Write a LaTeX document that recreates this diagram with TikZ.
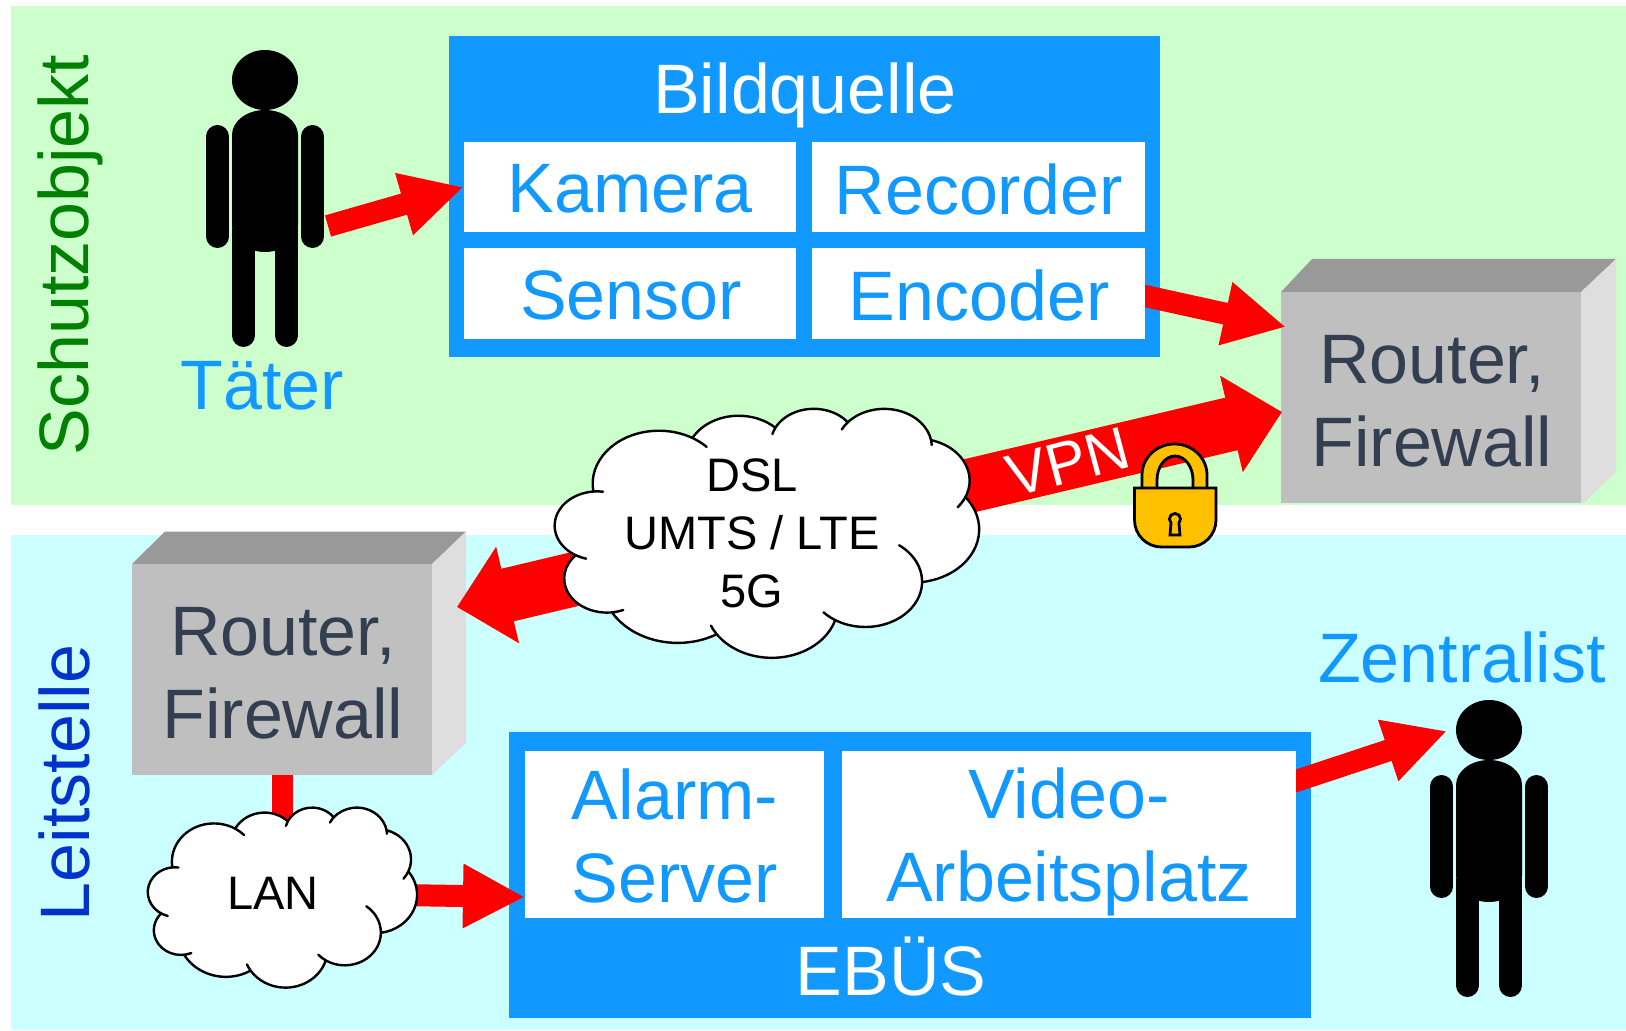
\documentclass[tikz,border=0pt]{standalone}
\usepackage{fontspec}
\setmainfont{Liberation Sans}
\usetikzlibrary{arrows.meta}
\definecolor{schutzgreen}{HTML}{CCFFCC}
\definecolor{leitcyan}{HTML}{CCFFFF}
\definecolor{boxblue}{HTML}{1199FF}
\definecolor{routertext}{HTML}{333F50}
\definecolor{lockyellow}{HTML}{FFC000}
\newcommand{\ctheta}[3]{atan2(#1*sin(#3),#2*cos(#3))}
\newcommand{\cloudarc}[6]{
  arc[x radius=#1pt,y radius=#2pt,start angle={\ctheta{#1}{#2}{(#3)}},delta angle={-mod(\ctheta{#1}{#2}{(#3)}-\ctheta{#1}{#2}{(#3-#5)}+720,360)}]
  arc[x radius=#1pt,y radius=#2pt,start angle={\ctheta{#1}{#2}{(#3-#5)}},delta angle={mod(\ctheta{#1}{#2}{(#3+#4+#6)}-\ctheta{#1}{#2}{(#3-#5)}+720,360)}]
  arc[x radius=#1pt,y radius=#2pt,start angle={\ctheta{#1}{#2}{(#3+#4+#6)}},delta angle={-mod(\ctheta{#1}{#2}{(#3+#4+#6)}-\ctheta{#1}{#2}{(#3+#4)}+720,360)}]
}
\newcommand{\cloudshape}[4]{
  \begin{scope}[shift={(#1,#2)},x=1pt,y=1pt,xscale={#3*0.5/4320},yscale={-#4*0.5/4320}]
    \draw[cloudline] (390,1437)
      \cloudarc{675.3}{919}{-190.487}{123.781}{0}{14}
      \cloudarc{533.3}{726.7}{-144.102}{89.945}{0}{0}
      \cloudarc{436.5}{594.5}{-145.808}{99.723}{14}{0}
      \cloudarc{485.7}{659.5}{-130.986}{117.242}{14}{10}
      \cloudarc{533.3}{727.3}{-78.709}{109.027}{0}{18}
      \cloudarc{677.5}{922}{-46.267}{130.269}{0}{0}
      \cloudarc{578.5}{786.7}{0.625}{114.033}{62}{14}
      \cloudarc{675.2}{921.5}{22.452}{115.173}{0}{12}
      \cloudarc{772}{1054.3}{66.243}{75.711}{0}{0}
      \cloudarc{436}{591.8}{-274.942}{146.736}{12}{0}
      \cloudarc{434.5}{594.5}{-246.833}{152.522}{12}{10}
      -- cycle;
  \end{scope}
}
\tikzset{
  bigtext/.style={font=\fontsize{35}{41.5}\selectfont},
  cloudline/.style={draw=black,fill=white,line width=1.2pt,line join=round},
  cloudtext/.style={font=\fontsize{23.5}{29}\selectfont,align=center,text=black},
  whitebox/.style={fill=white,inner sep=0pt},
  bluetext/.style={bigtext,text=boxblue,align=center},
  bluebox/.style={fill=boxblue,inner sep=0pt},
  routerfront/.style={fill=black!25,inner sep=0pt,minimum width=150pt,minimum height=105.5pt},
  routerlabel/.style={bigtext,text=routertext,align=center},
  redshaft/.style={draw=red,line width=11pt,-{Triangle[length=31pt,width=30pt]}},
  redwide/.style={draw=red,line width=27pt,-{Triangle[length=26pt,width=48pt]}},
  person/.pic={
    \fill (0,0) ellipse[x radius=16.5pt,y radius=15pt];
    \fill (-33,55) arc[start angle=180,end angle=0,x radius=16.5pt,y radius=12.5pt] -- (33,145) arc[start angle=0,end angle=-180,x radius=16.5pt,y radius=13.5pt] -- cycle;
    \draw[line width=11.5pt,line cap=round] (-47.5,56.5) -- (-47.5,156.5);
    \draw[line width=11.5pt,line cap=round] (47.5,56.5) -- (47.5,156.5);
    \draw[line width=11.5pt,line cap=round] (-21.5,150) -- (-21.5,255.5);
    \draw[line width=11.5pt,line cap=round] (21.5,150) -- (21.5,255.5);
  }
}
\begin{document}
\begin{tikzpicture}[x=0.5pt,y=-0.5pt]
  \useasboundingbox (0,0) rectangle (1626,1031);
  \fill[schutzgreen] (11,6) rectangle (1626,505);
  \fill[leitcyan] (11,535) rectangle (1626,1030);
  \node[rotate=90,bigtext,text=green!50!black] (schutzobjekt) at (70,255) {Schutzobjekt};
  \node[rotate=90,bigtext,text={rgb,255:red,0;green,51;blue,204}] (leitstelle) at (64,783) {Leitstelle};
  \pic at (265,80) {person};
  \pic at (1489,730) {person};
  \node[bluetext] (taeter) at (262,386) {Täter};
  \node[bluetext] (zentralist) at (1462,657) {Zentralist};
  \node[bluebox,minimum width=355.5pt,minimum height=160.5pt] (bildquelle) at (804.5,196.5) {};
  \node[bigtext,text=white] (bildtitel) at (805,95) {Bildquelle};
  \fill[black!40] (1281,292) -- (1312,259) -- (1616,259) -- (1581,292) -- cycle;
  \fill[black!13] (1581,292) -- (1616,259) -- (1616,472) -- (1584,503) -- (1581,503) -- cycle;
  \node[routerfront] (routerA) at (1431,397.5) {};
  \node[routerlabel] at (1432,401) {Router,\\Firewall};
  \fill[black!40] (132,564) -- (165,531.5) -- (466,531.5) -- (432,564) -- cycle;
  \fill[black!13] (432,564) -- (466,531.5) -- (466,743) -- (432,775) -- cycle;
  \node[routerfront] (routerB) at (282,669.5) {};
  \node[routerlabel] at (283,673) {Router,\\Firewall};
  \node[bluebox,minimum width=401pt,minimum height=143pt] (ebues) at (910,875) {};
  \node[bigtext,text=white] (ebuestitel) at (891,967) {EBÜS};
  \coordinate (dslmid) at (752,537);
  \coordinate (lanmid) at (273,893);
  \coordinate (encoderout) at (1125,291.6);
  \coordinate (routerAin) at (1286,327);
  \coordinate (routerAvpn) at (1282,412);
  \coordinate (routerBin) at (457,607);
  \coordinate (alarmin) at (525,897);
  \coordinate (videoout) at (1276,787.6);
  \coordinate (zentralistin) at (1447,731);
  \coordinate (taeterhand) at (328,226);
  \draw[redshaft] (encoderout) -- (routerAin);
  \draw[redshaft] (videoout) -- (zentralistin);
  \node[whitebox,minimum width=166pt,minimum height=45pt] (kamera) at (630,187) {};
  \node[bluetext] at (630,189) {Kamera};
  \node[whitebox,minimum width=166.5pt,minimum height=45pt] (recorder) at (978.5,187) {};
  \node[bluetext] at (978.5,189) {Recorder};
  \node[whitebox,minimum width=166pt,minimum height=45.5pt] (sensor) at (630,293.5) {};
  \node[bluetext] at (631,295.5) {Sensor};
  \node[whitebox,minimum width=166.5pt,minimum height=45.5pt] (encoder) at (978.5,293.5) {};
  \node[bluetext] at (979,295.5) {Encoder};
  \node[whitebox,minimum width=149.5pt,minimum height=83.5pt] (alarm) at (674.5,834.5) {};
  \node[bluetext] at (675,836) {Alarm-\\Server};
  \node[whitebox,minimum width=227pt,minimum height=83.5pt] (video) at (1069,834.5) {};
  \node[bluetext] at (1069,842) {Video-\\Arbeitsplatz};
  \draw[redshaft] (taeterhand) -- (kamera.west);
  \draw[redwide] (dslmid) -- (routerAvpn);
  \draw[redwide] (dslmid) -- (routerBin);
  \draw[red,line width=10.5pt] (routerB.south) -- (routerB.south |- lanmid);
  \draw[redshaft] (lanmid) -- (alarmin);
  \cloudshape{555}{408}{424}{249}
  \cloudshape{148}{807}{269}{180}
  \node[cloudtext] (dsl) at (752,533) {DSL\\UMTS / LTE\\5G};
  \node[cloudtext] (lan) at (lanmid) {LAN};
  \node[rotate=15,text=white,font=\fontsize{30}{36}\selectfont] (vpn) at (1068,462) {VPN};
  \filldraw[fill=lockyellow,draw=black,line width=1.4pt] (1142,490) -- (1142,475) arc[start angle=180,end angle=0,x radius=16.25pt,y radius=15.5pt] -- (1207,490) -- (1193,490) -- (1193,480) arc[start angle=0,end angle=180,x radius=9pt,y radius=12pt] -- (1157,490) -- cycle;
  \filldraw[fill=lockyellow,draw=black,line width=1.4pt] (1134.5,488) -- (1216,488) -- (1216,520) arc[start angle=0,end angle=-90,radius=13.5pt] -- (1161.5,547) arc[start angle=270,end angle=180,radius=13.5pt] -- cycle;
  \filldraw[fill=lockyellow,draw=black,line width=1.4pt] (1171,523) arc[start angle=225,end angle=-45,radius=2.8pt] -- (1180,535) -- (1170,535) -- cycle;
\end{tikzpicture}
\end{document}
